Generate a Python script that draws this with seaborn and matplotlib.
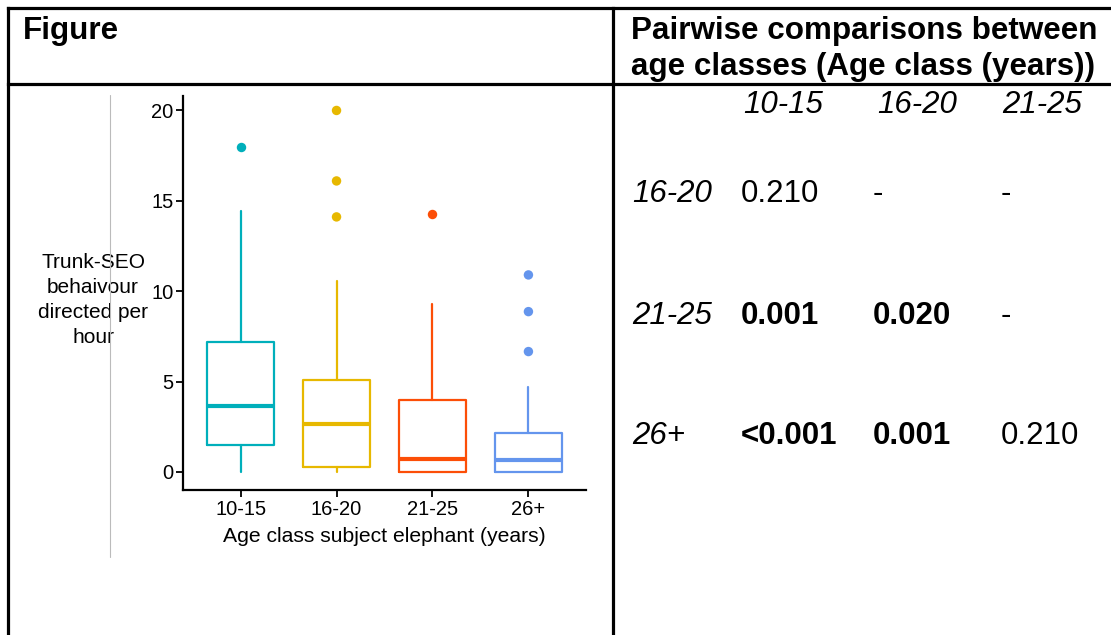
import matplotlib
matplotlib.use("Agg")
import matplotlib.pyplot as plt
from matplotlib.lines import Line2D
import pandas as pd
import seaborn as sns

# Age classes and box colours
groups = ["10-15", "16-20", "21-25", "26+"]
colors = ["#00AFBB", "#E7B800", "#FC4E07", "#6495ED"]

# Box summary statistics (behaviours per hour)
q1 = [1.50, 0.28, 0.00, 0.00]
median = [3.63, 2.67, 0.72, 0.65]
q3 = [7.21, 5.10, 4.00, 2.15]
whisker_low = [0.00, 0.00, 0.00, 0.00]
whisker_high = [14.44, 10.54, 9.29, 4.69]

# Outlying observations
outlier_group = ["10-15", "16-20", "16-20", "16-20", "21-25", "26+", "26+", "26+"]
outlier_value = [18.0, 20.0, 16.1, 14.11, 14.26, 10.9, 8.87, 6.66]

# Pairwise comparison table
table_cols = ["10-15", "16-20", "21-25"]
table_rows = ["16-20", "21-25", "26+"]
p_values = [["0.210", "-", "-"],
            ["0.001", "0.020", "-"],
            ["<0.001", "0.001", "0.210"]]
p_bold = [[False, False, False],
          [True, True, False],
          [True, True, False]]

sns.set_theme(style="ticks")
plt.rcParams["font.family"] = ["Liberation Sans", "DejaVu Sans"]

W, H = 1111, 635
fig = plt.figure(figsize=(W / 100, H / 100), dpi=100)
fig.patch.set_facecolor("white")


def fx(x):
    return x / W


def fy(y):
    return 1 - y / H


# --- boxplot panel ---
ax = fig.add_axes([fx(183), fy(490), (586 - 183) / W, (490 - 96) / H])
ax.set_facecolor("white")

out_df = pd.DataFrame({"group": outlier_group, "value": outlier_value})
sns.stripplot(data=out_df, x="group", y="value", hue="group", order=groups,
              hue_order=groups, palette=colors, jitter=False, size=6.8,
              linewidth=0, legend=False, ax=ax, zorder=3)

stats = []
for i, g in enumerate(groups):
    stats.append({"label": g, "q1": q1[i], "med": median[i], "q3": q3[i],
                  "whislo": whisker_low[i], "whishi": whisker_high[i],
                  "fliers": []})
art = ax.bxp(stats, positions=range(len(groups)), widths=0.7,
             showcaps=False, showfliers=False, manage_ticks=False,
             boxprops={"linewidth": 1.6}, whiskerprops={"linewidth": 1.6},
             medianprops={"linewidth": 3.0})
for i, c in enumerate(colors):
    art["boxes"][i].set_color(c)
    art["medians"][i].set_color(c)
    art["medians"][i].set_solid_capstyle("butt")
    for w in art["whiskers"][2 * i:2 * i + 2]:
        w.set_color(c)

ax.set_xlim(-0.6, 3.6)
ax.set_ylim(-1.0, 20.8)
ax.set_xticks(range(len(groups)))
ax.set_xticklabels(groups)
ax.set_yticks([0, 5, 10, 15, 20])
ax.tick_params(axis="both", length=5, width=1.3, color="black",
               labelsize=14.5, labelcolor="black", pad=2)
for side in ("left", "bottom"):
    ax.spines[side].set_color("black")
    ax.spines[side].set_linewidth(1.6)
sns.despine(ax=ax)

ax.set_xlabel("Age class subject elephant (years)", fontsize=15.2,
              color="black", labelpad=6)
ax.set_ylabel("Trunk-SEO\nbehaivour\ndirected per\nhour", fontsize=15,
              color="black", rotation=0, ha="center", va="center",
              linespacing=1.4)
ax.yaxis.set_label_coords((93 - 183) / (586 - 183), (490 - 300) / (490 - 96))

# thin grey guide line left of the plot
fig.add_artist(Line2D([fx(110), fx(110)], [fy(95), fy(557)],
                      transform=fig.transFigure, color="#BBBBBB", lw=0.8))

# --- table frame ---
frame_lw = 2.3
for (x0, y0, x1, y1) in [(8, 8, W, 8), (8, 84, W, 84),
                         (8, 8, 8, H), (613, 8, 613, H)]:
    fig.add_artist(Line2D([fx(x0), fx(x1)], [fy(y0), fy(y1)],
                          transform=fig.transFigure, color="black",
                          lw=frame_lw, solid_capstyle="projecting"))

head_size = 22.6
fig.text(fx(23), fy(39), "Figure", fontsize=head_size, fontweight="bold",
         color="black", va="baseline", ha="left")
fig.text(fx(631), fy(39), "Pairwise comparisons between", fontsize=head_size,
         fontweight="bold", color="black", va="baseline", ha="left")
fig.text(fx(631), fy(75), "age classes (Age class (years))", fontsize=head_size,
         fontweight="bold", color="black", va="baseline", ha="left")

cell_size = 22.5
col_x = [741, 873, 1001]
col_head_x = [743, 877, 1002]
row_y = [202, 324, 444]
for cx, lab in zip(col_head_x, table_cols):
    fig.text(fx(cx), fy(113), lab, fontsize=cell_size, style="italic",
             color="black", va="baseline", ha="left")
for r, lab in enumerate(table_rows):
    fig.text(fx(632), fy(row_y[r]), lab, fontsize=cell_size, style="italic",
             color="black", va="baseline", ha="left")
    for c in range(len(table_cols)):
        fig.text(fx(col_x[c]), fy(row_y[r]), p_values[r][c], fontsize=cell_size,
                 fontweight="bold" if p_bold[r][c] else "normal",
                 color="black", va="baseline", ha="left")

fig.savefig("out.png", dpi=100)
